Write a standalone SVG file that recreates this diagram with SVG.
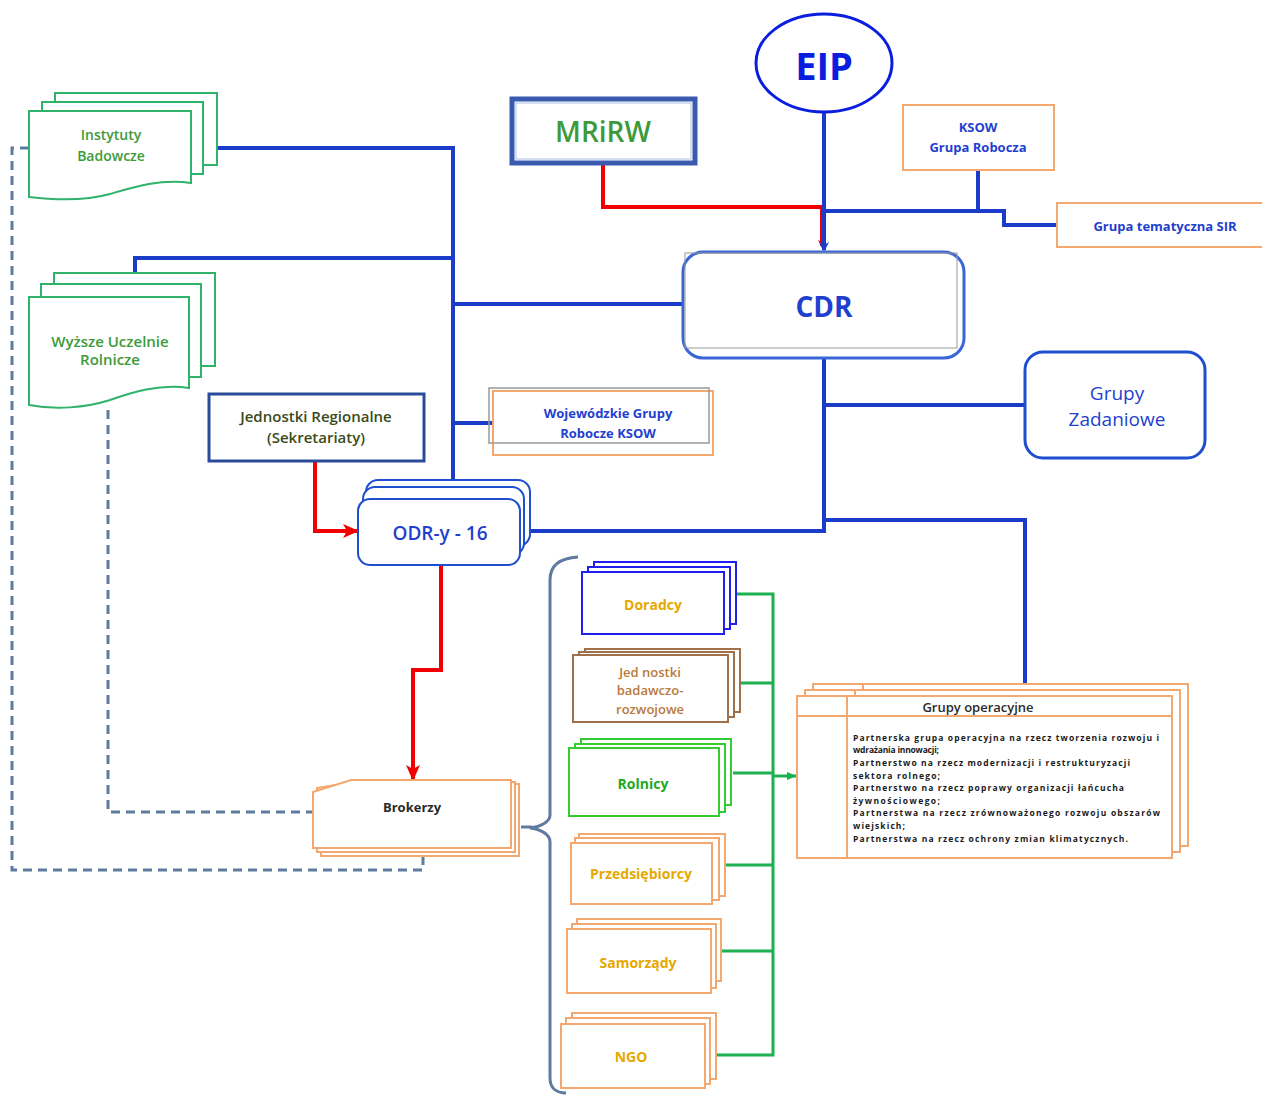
<svg xmlns="http://www.w3.org/2000/svg" width="1262" height="1095" viewBox="0 0 1262 1095">
<style>
text{font-family:"Open Sans","Liberation Sans",sans-serif;text-anchor:middle;dominant-baseline:central}
.bl{fill:none;stroke:#1a3cc8;stroke-width:4}
.rd{fill:none;stroke:#f00000;stroke-width:4}
.gr{fill:none;stroke:#1db050;stroke-width:3}
.ds{fill:none;stroke:#5f7b9f;stroke-width:3;stroke-dasharray:9 6}
.doc{fill:#fff;stroke:#2fb36a;stroke-width:2}
.org{fill:#fff;stroke:#f2a86e;stroke-width:2}
.t-g{fill:#3d9a3a;font-weight:600}
.t-b{fill:#1f3fcf;font-weight:700}
.t-y{fill:#e6a800;font-weight:700;font-size:14px}
</style>
<defs>
<marker id="ar" markerWidth="8" markerHeight="8" refX="6" refY="4" orient="auto" markerUnits="userSpaceOnUse" viewBox="0 0 8 8"><path d="M0,0 L8,4 L0,8 L2,4 Z" fill="#f00000"/></marker>
<marker id="ab" markerWidth="10" markerHeight="10" refX="8" refY="5" orient="auto" markerUnits="userSpaceOnUse" viewBox="0 0 10 10"><path d="M0,0 L10,5 L0,10 L3,5 Z" fill="#1a3cc8"/></marker>
<marker id="arr" markerWidth="16" markerHeight="14" refX="14" refY="7" orient="auto" markerUnits="userSpaceOnUse" viewBox="0 0 16 14"><path d="M0,0 L16,7 L0,14 L4,7 Z" fill="#f00000"/></marker>
<marker id="ag" markerWidth="10" markerHeight="10" refX="9" refY="5" orient="auto" markerUnits="userSpaceOnUse" viewBox="0 0 10 10"><path d="M0,1 L10,5 L0,9 Z" fill="#1db050"/></marker>
</defs>
<rect width="1262" height="1095" fill="#fff"/>

<g id="connectors">
  <path class="ds" d="M29,148 H12 V870 H423 V852"/>
  <path class="ds" d="M108,410 V812 H313"/>
  <path class="bl" d="M217,148 H453 V482"/>
  <path class="bl" d="M135,273 V258 H453"/>
  <path class="bl" d="M453,304 H683"/>
  <path class="bl" d="M453,423 H497"/>
  <path class="rd" d="M603,163 V207 H822 V246" marker-end="url(#ar)"/>
  <path class="bl" d="M824,113 V250" stroke-width="3" marker-end="url(#ab)"/>
  <path class="bl" d="M824,211 H1004 V225 H1057"/>
  <path class="bl" d="M978,170 V211"/>
  <path class="bl" d="M824,358 V531 H530"/>
  <path class="bl" d="M824,405 H1025"/>
  <path class="bl" d="M824,520 H1025 V684"/>
  <path class="rd" d="M315,461 V531 H357" marker-end="url(#arr)"/>
  <path class="rd" d="M441,565 V670 H413 V779" marker-end="url(#arr)"/>
  <path d="M521,827 H532" fill="none" stroke="#5f7b9f" stroke-width="3"/>
  <path d="M578,557 C560,558 550,565 550,580 V815 C550,822 540,827 530,828 C540,829 550,834 550,842 V1078 C550,1088 556,1093 566,1093" fill="none" stroke="#5f7b9f" stroke-width="3"/>
  <path class="gr" d="M737,594 H773 V1055 H705"/>
  <path class="gr" d="M740,683 H773"/>
  <path class="gr" d="M733,773 H773"/>
  <path class="gr" d="M725,865 H773"/>
  <path class="gr" d="M722,951 H773"/>
  <path class="gr" d="M773,776 H796" marker-end="url(#ag)"/>
</g>

<g id="instytuty">
  <rect x="55" y="93" width="162" height="72" class="doc"/>
  <rect x="42" y="102" width="161" height="72" class="doc"/>
  <path class="doc" d="M29,111 H191 V183 C160,178 130,188 110,194 C85,201 55,200 29,197 Z"/>
  <text x="111" y="134" class="t-g" font-size="14">Instytuty</text>
  <text x="111" y="155" class="t-g" font-size="14">Badowcze</text>
</g>

<g id="wyzsze">
  <rect x="54" y="273" width="161" height="93" class="doc"/>
  <rect x="41" y="284" width="160" height="93" class="doc"/>
  <path class="doc" d="M29,297 H189 V388 C160,383 130,393 110,400 C85,408 55,410 29,405 Z"/>
  <text x="110" y="341" class="t-g" font-size="15">Wyższe Uczelnie</text>
  <text x="110" y="359" class="t-g" font-size="15">Rolnicze</text>
</g>

<g id="mrirw">
  <rect x="512" y="99" width="183" height="64" fill="#fff" stroke="#3a5ab0" stroke-width="5"/>
  <rect x="516" y="103" width="175" height="56" fill="none" stroke="#a8bfe8" stroke-width="1"/>
  <text x="603" y="131" fill="#3d9a3a" font-size="28" font-weight="600">MRiRW</text>
</g>

<g id="eip">
  <ellipse cx="824" cy="63" rx="68" ry="49" fill="#fff" stroke="#0a1ee0" stroke-width="3"/>
  <text x="824" y="65" fill="#0a1ee0" font-size="38" font-weight="700">EIP</text>
</g>

<g id="ksow">
  <rect x="903" y="105" width="151" height="65" class="org"/>
  <text x="978" y="127" class="t-b" font-size="13">KSOW</text>
  <text x="978" y="147" class="t-b" font-size="13">Grupa Robocza</text>
</g>

<g id="sir">
  <rect x="1057" y="203" width="210" height="44" class="org"/>
  <text x="1165" y="226" class="t-b" font-size="13">Grupa tematyczna SIR</text>
</g>

<g id="cdr">
  <rect x="683" y="252" width="281" height="106" rx="20" fill="#fff" stroke="#3a66d6" stroke-width="3"/>
  <rect x="685" y="253" width="272" height="95" fill="none" stroke="#9a9a9a" stroke-width="1"/>
  <text x="824" y="306" fill="#1f3fcf" font-size="28" font-weight="700">CDR</text>
</g>

<g id="zadaniowe">
  <rect x="1025" y="352" width="180" height="106" rx="18" fill="#fff" stroke="#1f4fd0" stroke-width="3"/>
  <text x="1117" y="393" fill="#1f3fcf" font-size="19" font-weight="500">Grupy</text>
  <text x="1117" y="419" fill="#1f3fcf" font-size="19" font-weight="500">Zadaniowe</text>
</g>

<g id="jednostki-regionalne">
  <rect x="209" y="394" width="215" height="67" fill="#fff" stroke="#2a4a9a" stroke-width="3"/>
  <text x="316" y="416" fill="#3a4a1a" font-size="15" font-weight="600">Jednostki Regionalne</text>
  <text x="316" y="437" fill="#3a4a1a" font-size="15" font-weight="600">(Sekretariaty)</text>
</g>

<g id="wojewodzkie">
  <rect x="493" y="391" width="220" height="64" class="org"/>
  <rect x="489" y="388" width="220" height="55" fill="none" stroke="#9a9a9a" stroke-width="1.5"/>
  <text x="608" y="413" class="t-b" font-size="13">Wojewódzkie Grupy</text>
  <text x="608" y="433" class="t-b" font-size="13">Robocze KSOW</text>
</g>

<g id="odr">
  <rect x="366" y="480" width="164" height="66" rx="12" fill="#fff" stroke="#1f4fd0" stroke-width="2"/>
  <rect x="363" y="487" width="161" height="68" rx="12" fill="#fff" stroke="#1f4fd0" stroke-width="2"/>
  <rect x="358" y="499" width="162" height="66" rx="12" fill="#fff" stroke="#1f4fd0" stroke-width="2"/>
  <text x="440" y="533" fill="#1f3fcf" font-size="19" font-weight="600">ODR-y - 16</text>
</g>

<g id="brokerzy">
  <path class="org" d="M321,791 L359,784 H519 V856 H321 Z"/>
  <path class="org" d="M317,788 L355,782 H515 V852 H317 Z"/>
  <path class="org" d="M313,792 L351,780 H511 V848 H313 Z"/>
  <text x="412" y="807" fill="#2a2a2a" font-size="13" font-weight="700">Brokerzy</text>
</g>

<g id="doradcy">
  <rect x="594" y="562" width="142" height="62" fill="#fff" stroke="#2020ee" stroke-width="2"/>
  <rect x="588" y="567" width="142" height="62" fill="#fff" stroke="#2020ee" stroke-width="2"/>
  <rect x="582" y="572" width="142" height="62" fill="#fff" stroke="#2020ee" stroke-width="2"/>
  <text x="653" y="604" class="t-y">Doradcy</text>
</g>

<g id="jednostki-br">
  <rect x="585" y="649" width="155" height="63" fill="#fff" stroke="#a0704a" stroke-width="2"/>
  <rect x="579" y="652" width="155" height="65" fill="#fff" stroke="#a0704a" stroke-width="2"/>
  <rect x="573" y="655" width="155" height="67" fill="#fff" stroke="#a0704a" stroke-width="2"/>
  <text x="650" y="672" fill="#b87a3a" font-size="13" font-weight="600">Jed nostki</text>
  <text x="650" y="690" fill="#b87a3a" font-size="13" font-weight="600">badawczo-</text>
  <text x="650" y="709" fill="#b87a3a" font-size="13" font-weight="600">rozwojowe</text>
</g>

<g id="rolnicy">
  <rect x="581" y="739" width="150" height="66" fill="#fff" stroke="#33cc33" stroke-width="2"/>
  <rect x="575" y="744" width="150" height="68" fill="#fff" stroke="#33cc33" stroke-width="2"/>
  <rect x="569" y="748" width="150" height="68" fill="#fff" stroke="#33cc33" stroke-width="2"/>
  <text x="643" y="783" fill="#22aa22" font-size="14" font-weight="700">Rolnicy</text>
</g>

<g id="przedsiebiorcy">
  <rect x="579" y="834" width="146" height="62" class="org"/>
  <rect x="575" y="838" width="144" height="62" class="org"/>
  <rect x="571" y="843" width="141" height="61" class="org"/>
  <text x="641" y="873" class="t-y">Przedsiębiorcy</text>
</g>

<g id="samorzady">
  <rect x="577" y="919" width="144" height="62" class="org"/>
  <rect x="572" y="924" width="144" height="64" class="org"/>
  <rect x="567" y="929" width="144" height="64" class="org"/>
  <text x="638" y="962" class="t-y">Samorządy</text>
</g>

<g id="ngo">
  <rect x="572" y="1013" width="144" height="66" class="org"/>
  <rect x="566" y="1018" width="144" height="66" class="org"/>
  <rect x="561" y="1024" width="144" height="64" class="org"/>
  <text x="631" y="1056" class="t-y">NGO</text>
</g>

<g id="grupy-operacyjne">
  <rect x="813" y="684" width="375" height="162" class="org"/>
  <line x1="863" y1="684" x2="863" y2="696" stroke="#f2a86e" stroke-width="2"/>
  <rect x="805" y="690" width="375" height="162" class="org"/>
  <line x1="855" y1="690" x2="855" y2="696" stroke="#f2a86e" stroke-width="2"/>
  <rect x="797" y="696" width="375" height="162" class="org"/>
  <line x1="797" y1="716" x2="1172" y2="716" stroke="#f2a86e" stroke-width="2"/>
  <line x1="847" y1="696" x2="847" y2="858" stroke="#f2a86e" stroke-width="2"/>
  <text x="978" y="707" fill="#2a2a2a" font-size="13" font-weight="600">Grupy operacyjne</text>
  <g font-size="8.5" font-weight="700" fill="#1a1a1a">
    <text x="853" y="737" style="text-anchor:start" textLength="306" lengthAdjust="spacing">Partnerska grupa operacyjna na rzecz tworzenia rozwoju i</text>
    <text x="853" y="749" style="text-anchor:start" textLength="86" lengthAdjust="spacing">wdrażania innowacji;</text>
    <text x="853" y="762" style="text-anchor:start" textLength="277" lengthAdjust="spacing">Partnerstwo na rzecz modernizacji i restrukturyzacji</text>
    <text x="853" y="775" style="text-anchor:start" textLength="87" lengthAdjust="spacing">sektora rolnego;</text>
    <text x="853" y="787" style="text-anchor:start" textLength="271" lengthAdjust="spacing">Partnerstwo na rzecz poprawy organizacji łańcucha</text>
    <text x="853" y="800" style="text-anchor:start" textLength="87" lengthAdjust="spacing">żywnościowego;</text>
    <text x="853" y="812" style="text-anchor:start" textLength="307" lengthAdjust="spacing">Partnerstwa na rzecz zrównoważonego rozwoju obszarów</text>
    <text x="853" y="825" style="text-anchor:start" textLength="52" lengthAdjust="spacing">wiejskich;</text>
    <text x="853" y="838" style="text-anchor:start" textLength="275" lengthAdjust="spacing">Partnerstwa na rzecz ochrony zmian klimatycznych.</text>
  </g>
</g>
</svg>
